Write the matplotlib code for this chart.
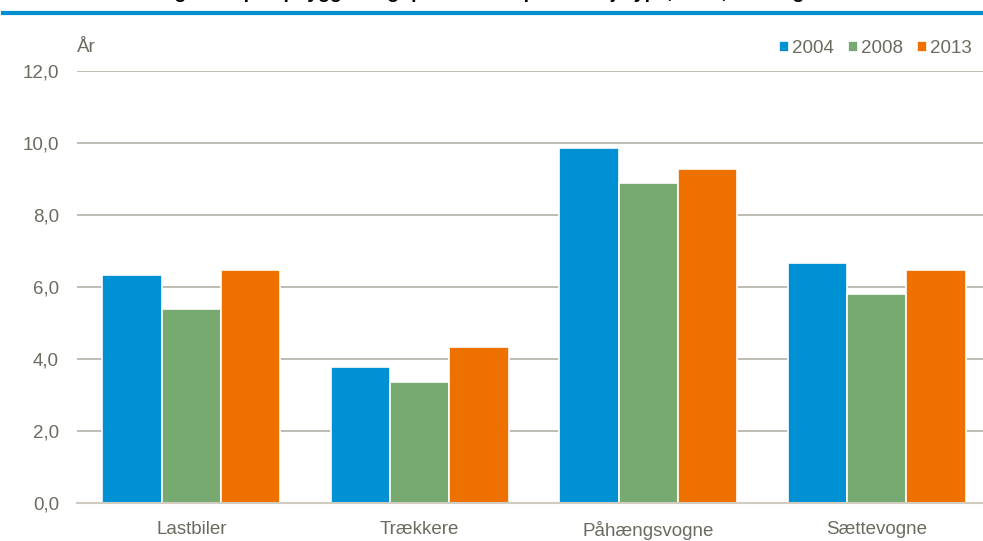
import matplotlib
matplotlib.use("Agg")
import matplotlib.pyplot as plt
import numpy as np
from matplotlib import font_manager

categories = ["Lastbiler", "Trækkere", "Påhængsvogne", "Sættevogne"]
years = ["2004", "2008", "2013"]
values_2004 = [6.32, 3.79, 9.86, 6.66]
values_2008 = [5.39, 3.35, 8.90, 5.81]
values_2013 = [6.48, 4.34, 9.28, 6.48]
yticks = [0, 2, 4, 6, 8, 10, 12]
ytick_labels = ["0,0", "2,0", "4,0", "6,0", "8,0", "10,0", "12,0"]
title = "Gennemsnitlig alder på opbygget vognpark fordelt på køretøjstype, 2004, 2008 og 2013"

colors = ["#0090d4", "#77aa70", "#ee7100"]
text_col = "#6b6b60"

names = {f.name for f in font_manager.fontManager.ttflist}
fam = "Liberation Sans Narrow" if "Liberation Sans Narrow" in names else "Liberation Sans"
plt.rcParams["font.family"] = [fam, "DejaVu Sans"]

W, H = 983, 541
fig = plt.figure(figsize=(W / 100, H / 100), dpi=100)

# top blue rule
fig.add_artist(plt.Line2D([3 / W, 1], [1 - 13 / H, 1 - 13 / H], color="#0090d0", lw=3))
# title sits above the visible area (only its descenders show, as in the reference)
fig.text(0.46, 1 + 2.5 / H, title, ha="center", va="baseline", fontsize=14,
         fontweight="bold", family=["Liberation Sans", "DejaVu Sans"], color="black")

left, right = 77 / W, 991 / W
bottom, top = 1 - 503 / H, 1 - 71 / H
ax = fig.add_axes([left, bottom, right - left, top - bottom])
ax.set_xlim(-0.5, len(categories) - 0.5)
ax.set_ylim(0, 12)

x = np.arange(len(categories))
bw = 0.26
series = [values_2004, values_2008, values_2013]
for i, (vals, c, yr) in enumerate(zip(series, colors, years)):
    ax.bar(x + (i - 1) * bw, vals, width=bw, color=c, edgecolor="white", linewidth=1.2,
           label=yr, zorder=3)

ax.set_yticks(yticks)
ax.set_yticklabels(ytick_labels)
ax.grid(axis="y", color="#b3b0a6", lw=1.2, zorder=0)
for s in ["top", "right", "left"]:
    ax.spines[s].set_visible(False)
ax.spines["bottom"].set_color("#d0ccc0")
ax.spines["bottom"].set_linewidth(1.5)
ax.spines["bottom"].set_zorder(4)
ax.set_xticks(x)
ax.set_xticklabels(categories)
ax.tick_params(axis="both", length=0, labelsize=13.5, colors=text_col)
ax.tick_params(axis="y", pad=13)
ax.tick_params(axis="x", pad=13)

fig.text(77 / W, 1 - 48 / H, "År", ha="left", va="center", fontsize=13.5, color=text_col)

leg = ax.legend(loc="upper right", bbox_to_anchor=(972 / W, 1 - 40 / H),
                bbox_transform=fig.transFigure, ncol=3, frameon=False,
                fontsize=13.5, handlelength=0.55, handleheight=0.55, handletextpad=0.15,
                columnspacing=0.75, borderaxespad=0, borderpad=0)
for t in leg.get_texts():
    t.set_color(text_col)

fig.savefig("out.png", dpi=100)
